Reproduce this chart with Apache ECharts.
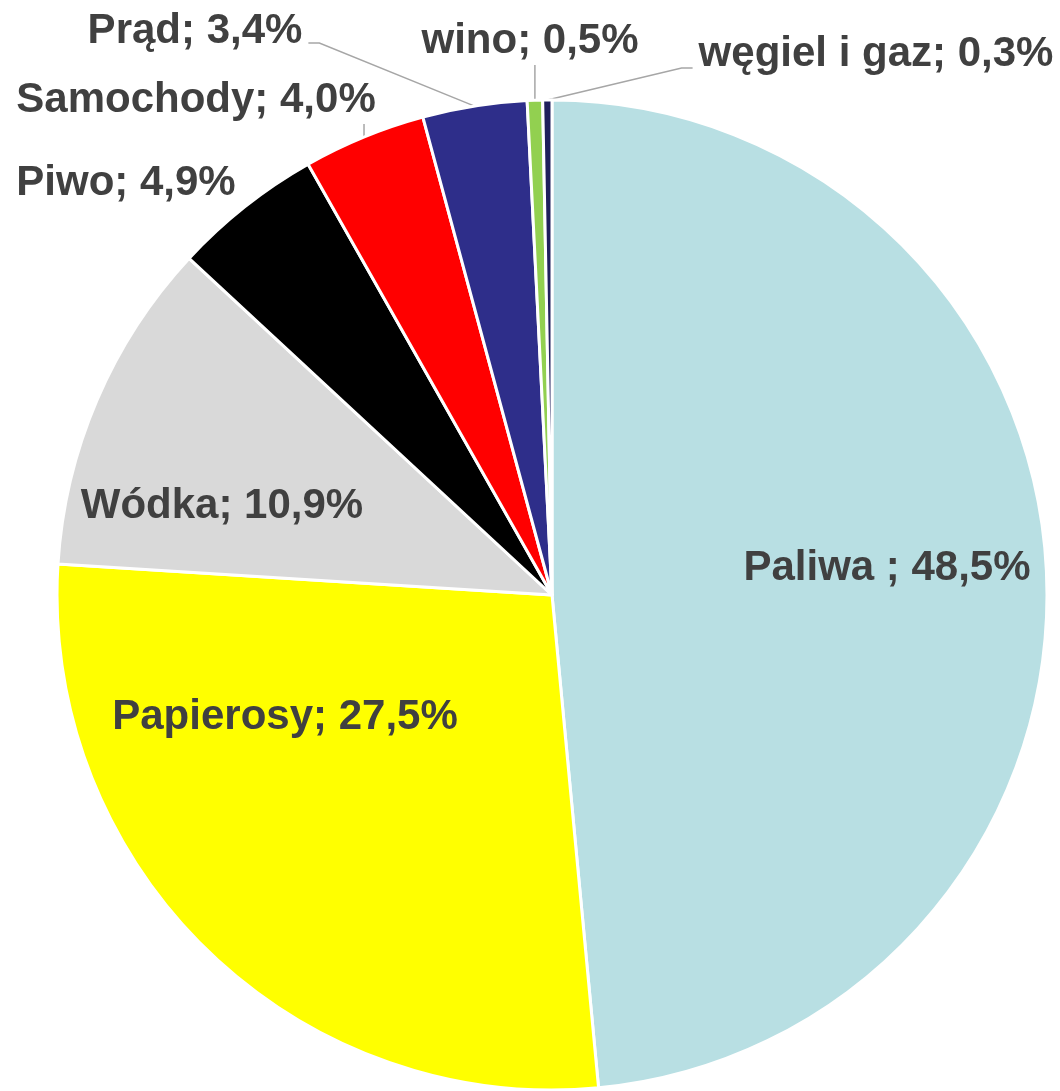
<!DOCTYPE html>
<html>
<head>
<meta charset="utf-8">
<script src="https://cdn.jsdelivr.net/npm/echarts@6/dist/echarts.min.js"></script>
<style>
    html, body { margin: 0; padding: 0; background: #ffffff; }
    #share_pie_chart { width: 1060px; height: 1091px; }
</style>
</head>
<body>
<div id="share_pie_chart"></div>
<script>
    // udział w wartości (kolejność zgodnie z ruchem wskazówek zegara od godz. 12)
    var category_list = ['Paliwa ', 'Papierosy', 'Wódka', 'Piwo', 'Samochody', 'Prąd', 'wino', 'węgiel i gaz'];
    var share_list = [48.5, 27.5, 10.9, 4.9, 4.0, 3.4, 0.5, 0.3];
    var color_list = ['#B8DFE3', '#FFFF00', '#D9D9D9', '#000000', '#FF0000', '#2E2E8A', '#92D050', '#1F1F5C'];

    // where each label text is centred, and which way its leader line runs
    var label_spot = [
        {x: 887, y: 568},
        {x: 285, y: 717},
        {x: 222, y: 506},
        {x: 126, y: 183},
        {x: 196, y: 100, line: 'up'},
        {x: 195, y: 31, line: 'toRight'},
        {x: 530, y: 41, line: 'up'},
        {x: 876, y: 54, line: 'toLeft'}
    ];

    function place_label(params) {
        var spot = label_spot[params.dataIndex];
        var out = {x: spot.x, y: spot.y, align: 'center', verticalAlign: 'middle'};
        var pts = params.labelLinePoints;
        if (spot.line && pts) {
            var p0 = pts[0];
            var half = params.labelRect.width / 2;
            var endX;
            if (spot.line == 'up') {
                out.labelLinePoints = [p0, [p0[0], spot.y + 24]];
            }
            else if (spot.line == 'toRight') {
                endX = spot.x + half + 6;
                out.labelLinePoints = [p0, [endX + 11, spot.y + 12], [endX, spot.y + 12]];
            }
            else {
                endX = spot.x - half - 6;
                out.labelLinePoints = [p0, [endX - 11, spot.y + 14], [endX, spot.y + 14]];
            }
        }
        return out;
    }

    var pie_data = [];
    for (var i = 0; i < category_list.length; i++) {
        pie_data.push({
            name: category_list[i],
            value: share_list[i],
            itemStyle: {color: color_list[i]},
            labelLine: {show: !!label_spot[i].line}
        });
    }

    var myChart = echarts.init(document.getElementById('share_pie_chart'));
    var option = {
        animation: false,
        backgroundColor: '#ffffff',
        series: [
            {
                type: 'pie',
                center: [552, 595],
                radius: 495,
                startAngle: 90,
                clockwise: true,
                avoidLabelOverlap: false,
                data: pie_data,
                itemStyle: {
                    borderColor: '#ffffff',
                    borderWidth: 3
                },
                label: {
                    show: true,
                    position: 'outside',
                    fontFamily: '"Liberation Sans", Arial, sans-serif',
                    fontWeight: 'bold',
                    fontSize: 42,
                    color: '#404040',
                    formatter: function (p) {
                        return p.name + '; ' + p.value.toFixed(1).replace('.', ',') + '%';
                    }
                },
                labelLine: {
                    show: true,
                    length: 10,
                    length2: 10,
                    lineStyle: {color: '#A6A6A6', width: 1.5}
                },
                labelLayout: place_label,
                emphasis: {disabled: true}
            }
        ]
    };
    myChart.setOption(option);
</script>
</body>
</html>
